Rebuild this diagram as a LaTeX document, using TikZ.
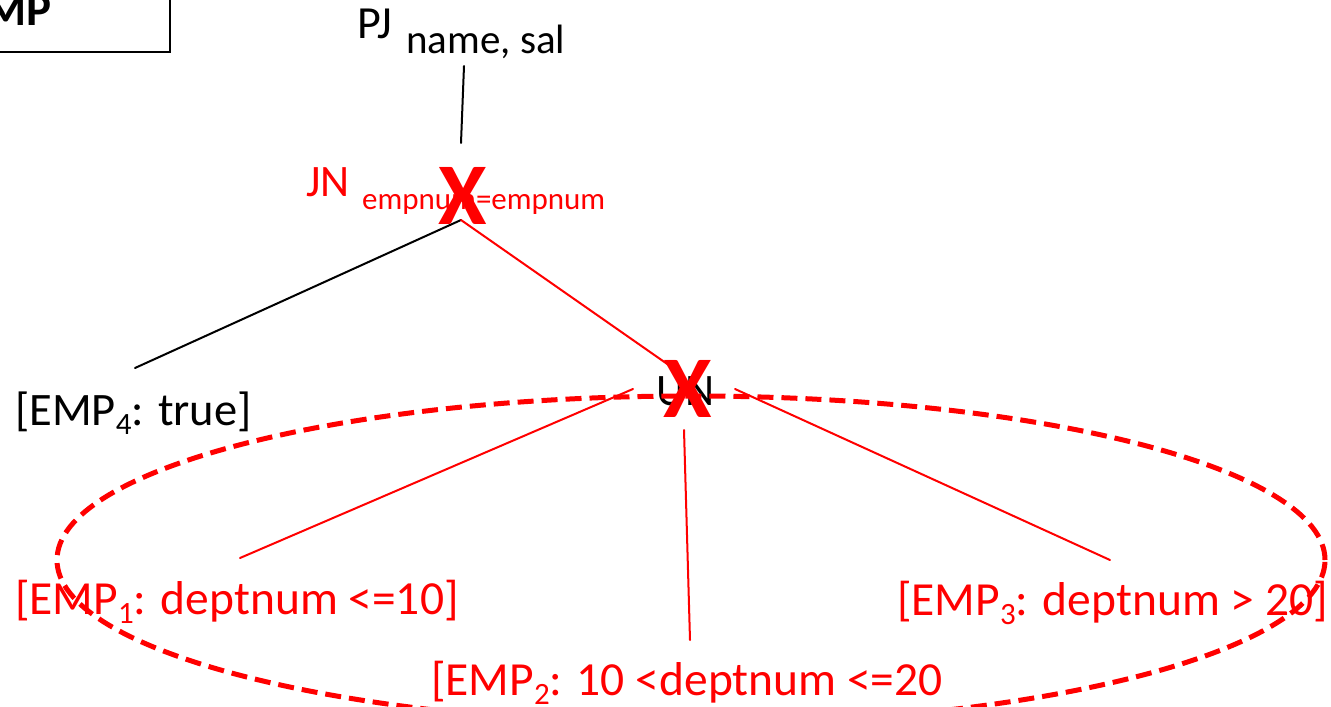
\documentclass[tikz,border=0pt]{standalone}
\usepackage{fontspec}
\setmainfont{Carlito}
\newcommand\fsz[1]{\fontsize{#1}{#1}\selectfont}
\newcommand\lowsub[1]{\raisebox{-9pt}{\fsz{31}#1}}
\begin{document}
\begin{tikzpicture}[x=1pt,y=-1pt,
  lbl/.style={inner sep=0pt, anchor=base west},
  big/.style={lbl, font=\fsz{47.5}},
  edge/.style={line width=2pt, line cap=round},
  redge/.style={edge, draw=red},
  cross/.style={inner sep=0pt, text=red, font=\bfseries\fsz{88}}]
\useasboundingbox (0,0) rectangle (1331,707);
\clip (0,0) rectangle (1331,707);

% relation box in the corner
\draw[line width=2pt] (-200,-100) rectangle (170,52);
\node[inner sep=0pt, anchor=base east, font=\bfseries\fsz{47}] (emp) at (52,25) {EMP};

% projection
\node[lbl, font=\fsz{46}] (pj) at (357,38) {PJ};
\node[lbl, font=\fsz{41}] (pjsub) at (406,53) {name, sal};

% join
\node[lbl, font=\fsz{45}, text=red] (jn) at (306,196) {JN};
\node[lbl, font=\fsz{31}, text=red] (jnsub) at (362,209) {empnum=empnum};

% union
\node[lbl, font=\fsz{45}] (un) at (656,405) {UN};

% fragments
\node[big, font=\fsz{46.5}] (e4) at (15,425) {[EMP\lowsub{4}: true]};
\node[big, text=red] (e1) at (15,614) {[EMP\lowsub{1}: deptnum <=10]};
\node[big, text=red] (e2) at (431,695) {[EMP\lowsub{2}: 10 <deptnum <=20};
\node[big, text=red] (e3) at (897,615) {[EMP\lowsub{3}: deptnum > 20]};

% edge end points
\coordinate (pjb) at (464,66);
\coordinate (jnt) at (461,143);
\coordinate (jnb) at (461,220);
\coordinate (e4t) at (135,368);
\coordinate (unt) at (683,375);
\coordinate (unl) at (633,389);
\coordinate (unm) at (684,430);
\coordinate (unr) at (735,389);
\coordinate (e1t) at (240,558);
\coordinate (e2t) at (690,640);
\coordinate (e3t) at (1110,560);

\draw[edge] (pjb) -- (jnt);
\draw[edge] (jnb) -- (e4t);
\draw[redge] (jnb) -- (unt);
\draw[redge] (unl) -- (e1t);
\draw[redge] (unm) -- (e2t);
\draw[redge] (unr) -- (e3t);

% grouping of the union fragments
\draw[red, line width=5pt, dash pattern=on 16pt off 8pt] (691,560) ellipse [x radius=634pt, y radius=164pt];

% crossed-out operators
\node[cross] (xjn) at (463,196) {X};
\node[cross] (xun) at (688,389) {X};
\end{tikzpicture}
\end{document}
